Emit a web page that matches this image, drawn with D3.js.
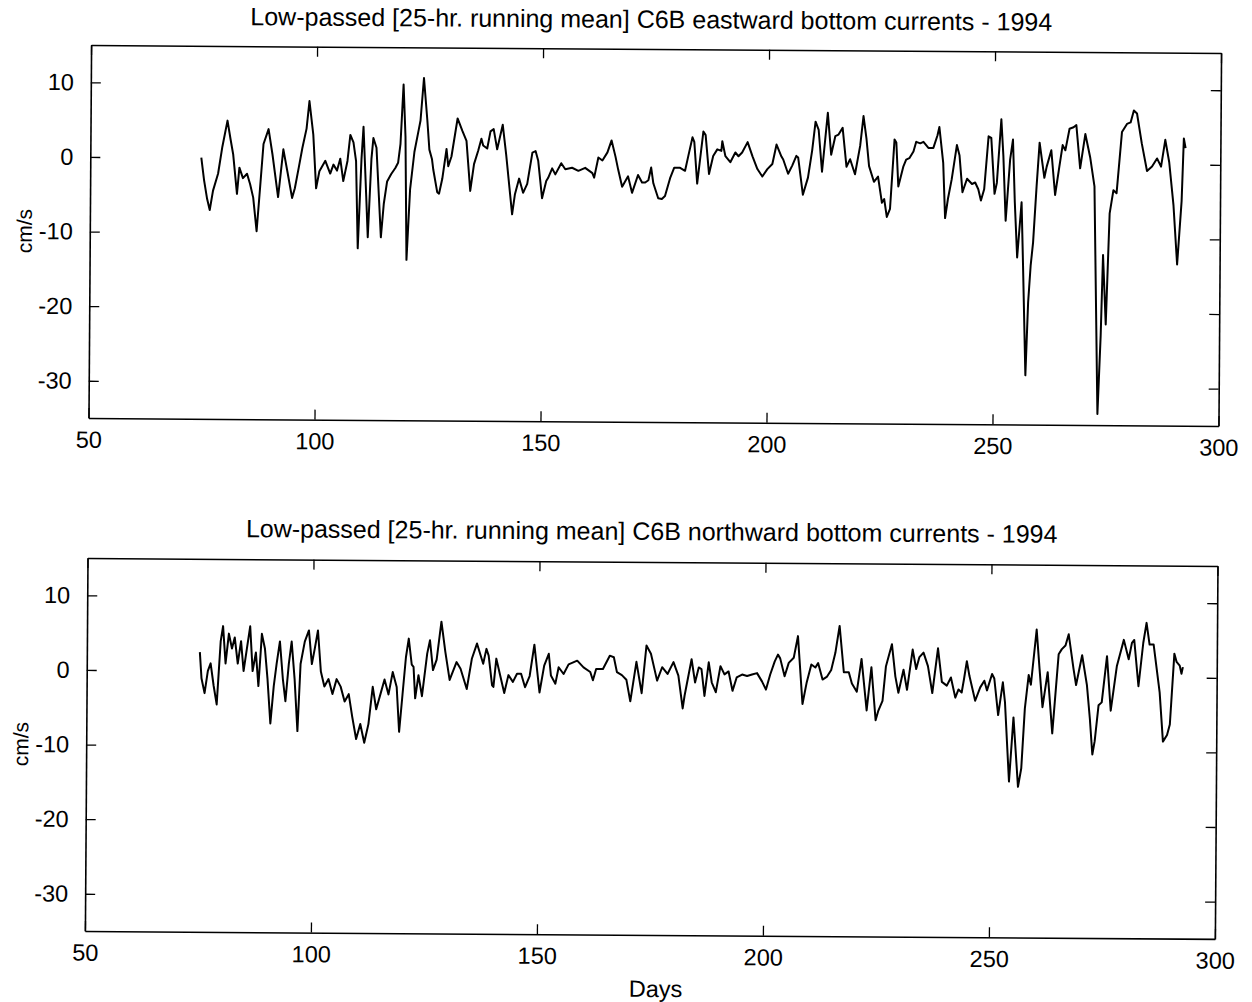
<!DOCTYPE html>
<html><head><meta charset="utf-8">
<script src="https://cdn.jsdelivr.net/npm/d3@7"></script>
<style>
html,body{margin:0;padding:0;background:#fff;}
text{font-family:"Liberation Sans",Arial,Helvetica,sans-serif;fill:#000;}
</style></head>
<body>
<svg id="chart" width="1252" height="1002"></svg>
<script>
// ---- data ----
const xTicks = [50, 100, 150, 200, 250, 300];
const yTicks = [10, 0, -10, -20, -30];
const titles = [
  "Low-passed [25-hr. running mean] C6B eastward bottom currents - 1994",
  "Low-passed [25-hr. running mean] C6B northward bottom currents - 1994"
];
const yLabel = "cm/s";
const xLabel = "Days";
const eastDays = [74.56,75.2,75.9,76.5,77.2,78.3,79.2,80.3,81.0,81.6,82.5,83.0,83.8,84.7,85.4,86.1,86.9,87.6,88.3,89.4,90.3,91.6,92.7,93.6,94.7,95.3,96.2,96.9,97.8,98.4,99.3,100.0,100.7,102.0,103.1,103.8,104.6,105.3,106.0,106.9,107.5,108.2,108.8,109.3,110.0,110.4,111.1,111.5,112.2,112.6,113.3,113.9,114.4,115.0,115.7,116.6,117.5,118.1,118.6,119.2,119.7,120.1,120.8,121.7,122.6,123.0,123.7,124.5,125.0,125.6,125.9,126.8,127.2,127.9,128.8,129.2,129.9,131.2,132.3,133.2,134.1,134.9,135.8,136.5,136.9,137.8,138.5,139.2,140.0,141.2,142.0,143.4,144.0,144.9,145.8,146.7,147.8,148.5,149.1,150.0,150.9,151.3,152.2,152.9,154.2,155.1,156.6,158.0,159.5,161.1,161.5,162.4,163.3,164.4,165.3,166.2,166.8,167.7,169.0,169.9,171.2,172.1,172.8,173.5,174.1,174.6,175.7,176.5,177.2,178.3,179.2,180.5,181.6,182.3,183.2,183.6,184.3,185.6,186.1,186.9,187.8,188.7,189.6,189.8,190.5,191.6,192.7,193.4,194.2,195.4,196.5,197.6,198.7,199.8,200.9,201.8,202.9,203.3,204.4,205.3,206.2,206.6,207.7,208.8,209.7,210.4,211.1,211.9,213.1,213.9,214.8,215.5,216.4,217.3,218.1,219.2,220.3,221.0,221.7,222.3,223.4,224.3,225.2,225.7,226.3,227.0,227.9,228.3,228.8,229.9,230.5,231.2,232.1,232.7,233.6,234.3,235.4,236.5,237.4,237.8,238.7,239.2,239.8,240.6,241.7,242.3,243.0,244.0,245.1,245.8,246.5,247.1,247.8,248.7,249.3,250.1,250.6,251.5,252.0,252.6,253.5,254.1,254.6,255.2,256.1,256.5,257.2,257.7,258.2,258.7,259.4,260.0,261.1,261.6,262.6,263.5,264.4,265.1,265.7,266.6,267.5,268.1,269.0,270.1,271.2,272.2,273.2,273.8,274.2,274.9,275.6,276.4,277.1,278.2,279.3,280.1,280.8,281.5,282.6,283.8,284.9,286.0,286.9,287.8,288.7,289.7,290.6,291.5,291.9,292.3];
const eastVals = [0,-3,-5.5,-7.0,-4.4,-2.1,1.5,5.0,2.5,0.5,-4.8,-1.3,-2.7,-2.1,-3.5,-5.3,-9.8,-4,1.9,3.9,0.5,-5.2,1.2,-1.7,-5.3,-4,-1,1.4,4,7.7,3.2,-4,-1.7,-0.3,-2,-0.8,-1.6,0,-3,-0.3,3.2,2.2,-0.3,-12,0,4.3,-5,-10.5,0,2.8,1.5,-5,-10.5,-6,-3,-2,-1.2,-0.5,2,10,3,-13.5,-4,1,3.9,5.2,10.9,5.3,1.3,0,-1.4,-4.4,-4.6,-2.6,1.4,-0.9,0.4,5.5,3.8,2.5,-4.2,-0.6,1.2,2.8,1.9,1.5,3.8,4.1,1.4,4.7,0.7,-7.3,-4.6,-2.5,-4.4,-3.2,1,1.2,-0.1,-5.1,-2.8,-2.4,-1.1,-1.9,-0.4,-1.2,-1.0,-1.4,-1.0,-1.7,-2.3,0.4,0,1.1,2.7,0.5,-1.2,-3.5,-2.1,-4.3,-1.9,-2.9,-2.9,-2.6,-0.9,-3,-5,-5.1,-4.7,-2.3,-0.9,-0.9,-1.3,0.7,3.2,2.6,-3,4,3.5,-1.7,0.7,1.6,1.4,2.7,0.7,-0.1,1.2,0.7,1.2,2.6,0.7,-1,-2,-1,-0.3,2.3,0.7,0.3,-1.6,-0.5,0.8,0.6,-4.4,-2.1,1.6,5.4,4.3,-1.3,6.6,1,3.5,3.7,4.6,-0.6,0.4,-1.6,2.2,6.2,3.1,-0.5,-2.6,-1.9,-5.4,-4.9,-7.3,-6.2,3.1,2.7,-3.2,-0.5,0.4,0.6,1.5,2.8,2.6,2.8,2,2,3.7,4.8,0,-7.4,-4.8,-2.2,2.4,1,-3.9,-2.1,-2.8,-2.6,-3.5,-5,-3.5,3.6,3.4,-4.1,-2.6,5.9,1,-7.7,0.5,3.2,-5.2,-12.6,-5.2,-13.3,-28.4,-18.6,-13.7,-10.6,-3,2.8,-1.9,-0.4,1.8,-4.2,-0.4,2.5,1.8,4.7,4.9,5.2,-0.6,4.0,0.9,-3,-33.5,-23,-12.2,-21.5,-6.6,-3.5,-3.9,4.3,5.4,5.6,7.2,6.8,2.8,-0.9,-0.3,0.8,-0.3,3.3,0.3,-5.4,-13.4,-4.9,3.5,2.2];
const northDays = [75.0,75.4,76.1,76.8,77.4,78.1,78.8,79.6,80.1,80.7,81.4,82.1,82.7,83.4,84.1,84.7,85.4,86.1,86.7,87.4,88.0,88.7,89.4,90.0,90.7,91.4,92.0,92.7,93.4,94.0,94.7,95.3,96.0,96.7,97.3,98.2,99.1,99.8,100.4,101.1,101.8,102.6,103.5,104.4,105.3,106.2,107.1,108.0,108.8,109.7,110.6,111.5,112.4,113.3,114.1,115.0,115.9,116.8,117.7,118.6,119.2,119.9,120.6,121.2,121.9,122.3,122.7,123.4,124.2,125.3,125.9,126.6,127.4,128.4,129.3,130.3,131.8,132.7,134.1,135.2,136.3,137.7,138.4,138.9,139.7,140.0,140.6,141.1,142.4,143.3,144.3,145.2,146.1,147.0,148.0,149.0,150.2,151.2,152.2,152.7,153.7,154.4,155.5,156.6,158.5,159.9,161.4,162.0,162.7,164.2,165.7,166.6,167.3,168.4,169.4,170.3,171.6,172.8,173.8,174.8,176.2,177.3,178.5,179.8,180.9,181.9,182.3,183.8,184.6,185.4,186.0,186.7,187.6,188.3,189.2,190.2,191.1,192.0,192.9,193.8,195.0,196.1,197.2,198.3,199.4,200.3,201.2,202.2,202.9,203.4,204.4,205.3,206.4,207.3,208.4,209.3,210.3,211.2,211.8,212.8,213.8,214.7,215.6,216.5,217.5,218.6,219.3,220.4,221.4,222.6,223.6,224.6,225.2,226.1,226.8,228.1,228.9,229.6,230.7,231.5,232.7,233.5,234.2,235.1,236.1,237.1,238.3,239.2,240.3,241.2,242.2,242.9,243.6,244.1,244.7,245.3,246.6,247.7,248.6,249.2,250.3,250.8,251.7,252.7,253.2,254.2,255.1,256.2,256.9,257.6,258.4,258.9,260.1,260.8,261.5,262.6,263.7,265.0,265.7,266.5,267.2,268.3,268.9,270.2,271.3,272.0,272.6,273.1,273.9,274.6,275.7,276.6,277.9,279.4,280.5,281.2,281.7,282.7,283.7,284.4,285.1,286.0,287.4,288.2,289.1,289.7,290.6,291.1,291.8,292.2,292.5];
const northVals = [2.5,-1,-3,0,1,-2,-4.5,4,6,1,5,3,4.5,1,4,0,3,6,0,2.5,-2,5,3,-1,-7,-2,1,4,-1,-4,1,4,-1,-8,1,4,5.5,1,3,5.5,0,-2,-1,-3,-1,-2,-4,-3,-6,-9,-7,-9.5,-7,-2,-5,-3,-1,-3,0,-2,-8,-3,2,4.5,1,0.7,-3.5,-0.4,-3.2,2.5,4.3,0.3,1.7,6.8,2.8,-1,1.4,0.5,-2.2,1.9,3.9,1.2,3.2,2.3,-1.7,-1.9,1.9,0.6,-2.7,-0.3,-1.2,-0.1,-0.1,-1.9,-0.4,3.8,-2.6,1,2.6,-0.3,-1.4,0.8,-0.1,1.2,1.7,0.8,0.2,-0.9,0.6,0.6,2.4,2.2,0.2,-0.2,-0.8,-3.7,1.6,-2.6,3.8,2.7,-0.9,0.9,0,1.6,-0.2,-4.6,-2.9,2,-1.1,0.9,0.7,-2.9,1.6,-1.1,-2.4,1.1,0,0.4,-2.2,-0.4,0,-0.2,0,0.2,-0.9,-2,0,1.8,2.7,2.2,-0.2,1.6,2.3,5.2,-3.9,-1,1.4,1,1.6,-0.6,-0.2,0.7,3,6.6,0.4,0.4,-1.1,-2.2,2.2,-4.7,1.1,-6,-4.7,-3.4,1.2,4.2,-0.1,-2.3,0.8,-1.9,3.5,0.9,2.5,3.1,1.3,-2.3,3.7,-0.8,-1.3,-0.2,-2.9,-1.8,-2.2,-0.4,2,0,-3.3,-1.5,-0.6,-1.9,0.3,-0.3,-5.2,-0.8,-3.5,-14.1,-5.5,-14.8,-12.3,-4.3,0.2,-1.1,6.3,1,-4.1,0.6,-7.6,3,3.7,4.2,5.7,1.1,-1.1,2.9,-1.1,-5.6,-10.4,-8.6,-3.8,-3.4,2.8,-4.5,1.5,5,2.4,4.6,5,-1.2,4.6,7.3,4.4,4.4,-2,-8.6,-7.7,-6.3,3.2,2.1,1.6,0.5,1.4];

// ---- drawing ----
const svg = d3.select("#chart");
const root = svg.append("g").attr("transform", "rotate(0.4,655,490)");
const W = 1130, H = 373, left = 88;
const panels = [
  {top: 49, days: eastDays, vals: eastVals, title: titles[0], titleY: 28, titleDx: -5},
  {top: 562, days: northDays, vals: northVals, title: titles[1], titleY: 540, titleDx: -1}
];
const x = d3.scaleLinear().domain([50, 300]).range([0, W]);
const y = d3.scaleLinear().domain([-35, 15]).range([H, 0]);
const fmt = d => String(d);

panels.forEach((p, i) => {
  const g = root.append("g").attr("transform", `translate(${left},${p.top})`);
  const pts = p.days.map((d, k) => [d, p.vals[k]]);
  g.append("path").datum(pts)
    .attr("fill", "none").attr("stroke", "#000").attr("stroke-width", 2)
    .attr("stroke-linejoin", "round")
    .attr("d", d3.line().x(d => x(d[0])).y(d => y(d[1])));
  const ax = [
    {a: d3.axisBottom(x).tickValues(xTicks).tickFormat(fmt).tickSize(-10).tickPadding(13), t: `translate(0,${H})`, labels: true},
    {a: d3.axisTop(x).tickValues(xTicks).tickSize(-10), t: `translate(0,0)`, labels: false},
    {a: d3.axisLeft(y).tickValues(yTicks).tickFormat(fmt).tickSize(-10).tickPadding(17), t: `translate(0,0)`, labels: true},
    {a: d3.axisRight(y).tickValues(yTicks).tickSize(-10), t: `translate(${W},0)`, labels: false}
  ];
  ax.forEach(o => {
    o.a.tickSizeOuter(0);
    const ag = g.append("g").attr("transform", o.t).call(o.a);
    ag.select(".domain").attr("stroke", "#000").attr("stroke-width", 1.6);
    ag.selectAll(".tick line").attr("stroke", "#000").attr("stroke-width", 1.3);
    if (!o.labels) ag.selectAll(".tick text").remove();
    else ag.selectAll(".tick text").attr("font-size", 23.5).attr("fill", "#000")
      .attr("font-family", '"Liberation Sans",Arial,sans-serif');
  });
  root.append("text").attr("x", left + W / 2 + p.titleDx).attr("y", p.titleY)
    .attr("text-anchor", "middle").attr("font-size", 25).text(p.title);
  root.append("text")
    .attr("transform", `translate(30,${p.top + H / 2}) rotate(-90)`)
    .attr("text-anchor", "middle").attr("font-size", 21).text(yLabel);
});
root.append("text").attr("x", left + W / 2 + 6).attr("y", 997)
  .attr("text-anchor", "middle").attr("font-size", 23.5).text(xLabel);
</script>
</body></html>
